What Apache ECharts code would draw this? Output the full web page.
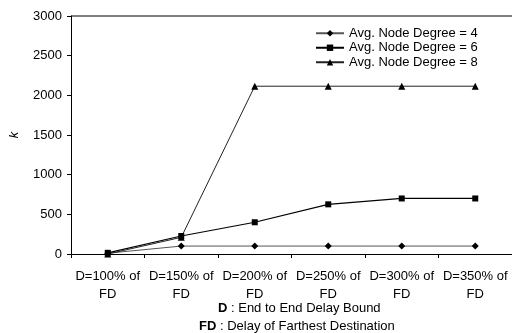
<!DOCTYPE html>
<html><head><meta charset="utf-8">
<script src="https://cdn.jsdelivr.net/npm/echarts@6/dist/echarts.min.js"></script>
<style>html,body{margin:0;padding:0;background:#fff}#c{width:512px;height:333px}</style>
</head><body><div id="c"></div>
<script>
var categories = ['D=100% of\nFD','D=150% of\nFD','D=200% of\nFD','D=250% of\nFD','D=300% of\nFD','D=350% of\nFD'];
var deg4 = [10, 100, 100, 100, 100, 100];
var deg6 = [15, 227, 400, 626, 700, 700];
var deg8 = [0, 210, 2115, 2115, 2115, 2115];
var seriesNames = ['Avg. Node Degree = 4','Avg. Node Degree = 6','Avg. Node Degree = 8'];
var yTicks = [0, 500, 1000, 1500, 2000, 2500, 3000];

var font = 'Liberation Sans, Arial, sans-serif';
var fs = 13;
var chart = echarts.init(document.getElementById('c'), null, {renderer:'canvas'});
function mk(name, data, sym, size, color, w){
  return {name:name, type:'line', data:data, symbol:sym, symbolSize:size,
    lineStyle:{color:color, width:w}, itemStyle:{color:'#000'}, animation:false};
}
chart.setOption({
  animation:false,
  grid:{left:71, top:16, width:444, height:238, show:false},
  legend:{
    left:315, top:26, orient:'vertical', itemGap:0, itemWidth:28, itemHeight:8,
    textStyle:{fontFamily:font, fontSize:fs, color:'#000', lineHeight:14.5}, padding:0,
    data:seriesNames
  },
  xAxis:{type:'category', data:categories, boundaryGap:true,
    axisLine:{lineStyle:{color:'#000', width:1}},
    axisTick:{show:true, length:4, lineStyle:{color:'#000'}},
    axisLabel:{fontFamily:font, fontSize:fs, color:'#000', lineHeight:18, margin:13, interval:0}
  },
  yAxis:[{type:'value', min:yTicks[0], max:yTicks[yTicks.length-1], interval:500,
    axisLine:{show:true, lineStyle:{color:'#000'}},
    axisTick:{show:true, length:4, inside:false, lineStyle:{color:'#000'}},
    splitLine:{show:false},
    axisLabel:{fontFamily:font, fontSize:fs, color:'#000', margin:9, formatter:function(v){return String(v);}},
    name:'k', nameLocation:'middle', nameGap:50, nameRotate:90,
    nameTextStyle:{fontFamily:font, fontSize:fs, fontStyle:'italic', color:'#000'}
  }],
  graphic:[
    {type:'line', shape:{x1:71, y1:16, x2:512, y2:16}, style:{stroke:'#000', lineWidth:1}},
    {type:'text', left:218, top:302, style:{rich:{b:{fontWeight:'bold', fontFamily:font, fontSize:fs}, n:{fontFamily:font, fontSize:fs}}, text:'{b|D}{n| : End to End Delay Bound}'}},
    {type:'text', left:199, top:320, style:{rich:{b:{fontWeight:'bold', fontFamily:font, fontSize:fs}, n:{fontFamily:font, fontSize:fs}}, text:'{b|FD}{n| : Delay of Farthest Destination}'}}
  ],
  series:[
    mk(seriesNames[0], deg4, 'diamond', 7, '#555', 1),
    mk(seriesNames[1], deg6, 'rect', 6, '#000', 1.2),
    mk(seriesNames[2], deg8, 'triangle', 7, '#222', 1)
  ]
});
</script></body></html>
